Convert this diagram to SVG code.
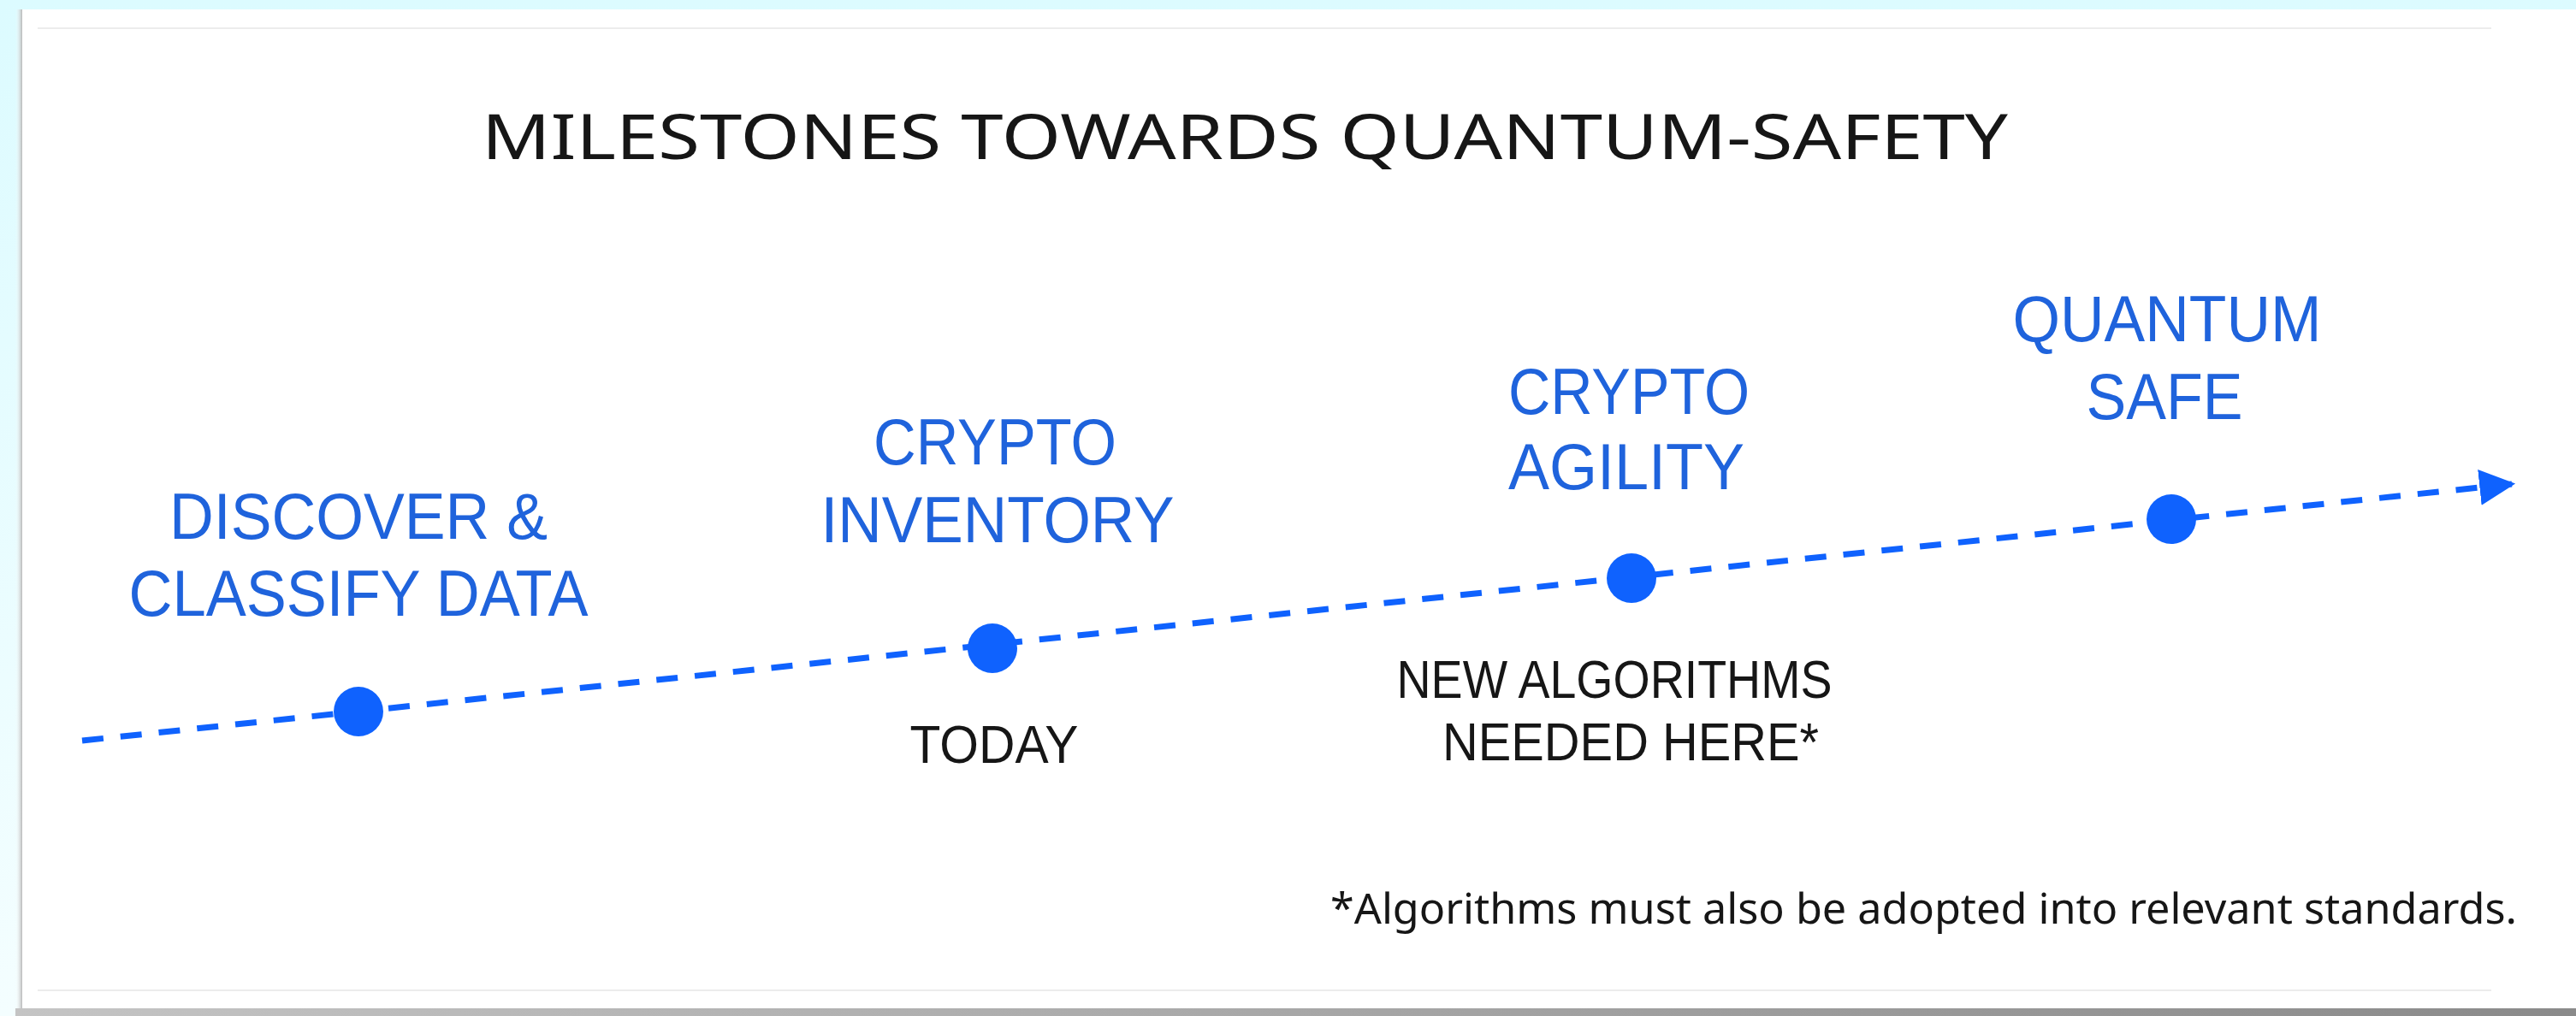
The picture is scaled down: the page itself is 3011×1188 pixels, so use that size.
<svg xmlns="http://www.w3.org/2000/svg" width="3011" height="1188" viewBox="0 0 3011 1188">
  <defs>
    <linearGradient id="bg" x1="0" y1="0" x2="0" y2="1">
      <stop offset="0" stop-color="#dcfbff"/>
      <stop offset="1" stop-color="#f4feff"/>
    </linearGradient>
    <linearGradient id="shadowL" x1="0" y1="0" x2="1" y2="0">
      <stop offset="0" stop-color="#ffffff" stop-opacity="0"/>
      <stop offset="1" stop-color="#b8b8b8"/>
    </linearGradient>
    <linearGradient id="shadowB" x1="0" y1="0" x2="1" y2="0">
      <stop offset="0" stop-color="#c4c4c4"/>
      <stop offset="1" stop-color="#8a8a8a"/>
    </linearGradient>
    <marker id="arrow" viewBox="0 0 10 10" refX="9" refY="5" markerWidth="6" markerHeight="6" markerUnits="strokeWidth" orient="auto">
      <path d="M0,0 L10,5 L0,10 Z" fill="#0f62fe"/>
    </marker>
    <style>
      .title { font-family: "Noto Sans", "Liberation Sans", sans-serif; font-size: 73px; fill: #161616; }
      .lbl { font-family: "Liberation Sans", Arial, sans-serif; font-size: 76px; fill: #1f63dc; text-anchor: middle; }
      .note { font-family: "Liberation Sans", Arial, sans-serif; font-size: 63px; fill: #161616; text-anchor: middle; }
      .foot { font-family: "Noto Sans", "Liberation Sans", sans-serif; font-size: 50px; fill: #161616; }
      .dot { fill: #0f62fe; }
      .path { stroke: #0f62fe; stroke-width: 7; fill: none; stroke-dasharray: 25 20; }
      .rule { stroke: #ececec; stroke-width: 2; }
    </style>
  </defs>

  <!-- background and card -->
  <rect x="0" y="0" width="3011" height="1188" fill="url(#bg)"/>
  <rect x="18" y="11" width="8" height="1177" fill="url(#shadowL)"/>
  <rect x="18" y="1179" width="2993" height="9" fill="url(#shadowB)"/>
  <rect x="26" y="11" width="2985" height="1168" fill="#ffffff"/>
  <line class="rule" x1="44" y1="33" x2="2912" y2="33"/>
  <line class="rule" x1="44" y1="1158" x2="2912" y2="1158"/>

  <text class="title" x="563" y="186" textLength="1784" lengthAdjust="spacingAndGlyphs">MILESTONES TOWARDS QUANTUM-SAFETY</text>

  <g id="connectors">
    <line class="path" x1="96" y1="866" x2="2936" y2="566" marker-end="url(#arrow)"/>
  </g>

  <g id="discover">
    <circle class="dot" cx="419" cy="832" r="29"/>
    <text class="lbl" x="419" y="630" textLength="442" lengthAdjust="spacingAndGlyphs">DISCOVER &amp;</text>
    <text class="lbl" x="419" y="720" textLength="537" lengthAdjust="spacingAndGlyphs">CLASSIFY DATA</text>
  </g>

  <g id="inventory">
    <circle class="dot" cx="1160" cy="758" r="29"/>
    <text class="lbl" x="1163" y="543" textLength="284" lengthAdjust="spacingAndGlyphs">CRYPTO</text>
    <text class="lbl" x="1166" y="634" textLength="413" lengthAdjust="spacingAndGlyphs">INVENTORY</text>
    <text class="note" x="1162" y="892" textLength="197" lengthAdjust="spacingAndGlyphs">TODAY</text>
  </g>

  <g id="agility">
    <circle class="dot" cx="1907" cy="676" r="29"/>
    <text class="lbl" x="1904" y="484" textLength="282" lengthAdjust="spacingAndGlyphs">CRYPTO</text>
    <text class="lbl" x="1901" y="572" textLength="276" lengthAdjust="spacingAndGlyphs">AGILITY</text>
    <text class="note" x="1887" y="816" textLength="509" lengthAdjust="spacingAndGlyphs">NEW ALGORITHMS</text>
    <text class="note" x="1906" y="889" textLength="440" lengthAdjust="spacingAndGlyphs">NEEDED HERE*</text>
  </g>

  <g id="quantum-safe">
    <circle class="dot" cx="2538" cy="607" r="29"/>
    <text class="lbl" x="2533" y="399" textLength="361" lengthAdjust="spacingAndGlyphs">QUANTUM</text>
    <text class="lbl" x="2530" y="490" textLength="183" lengthAdjust="spacingAndGlyphs">SAFE</text>
  </g>

  <text class="foot" x="1555" y="1080" textLength="1387" lengthAdjust="spacingAndGlyphs">*Algorithms must also be adopted into relevant standards.</text>
</svg>
